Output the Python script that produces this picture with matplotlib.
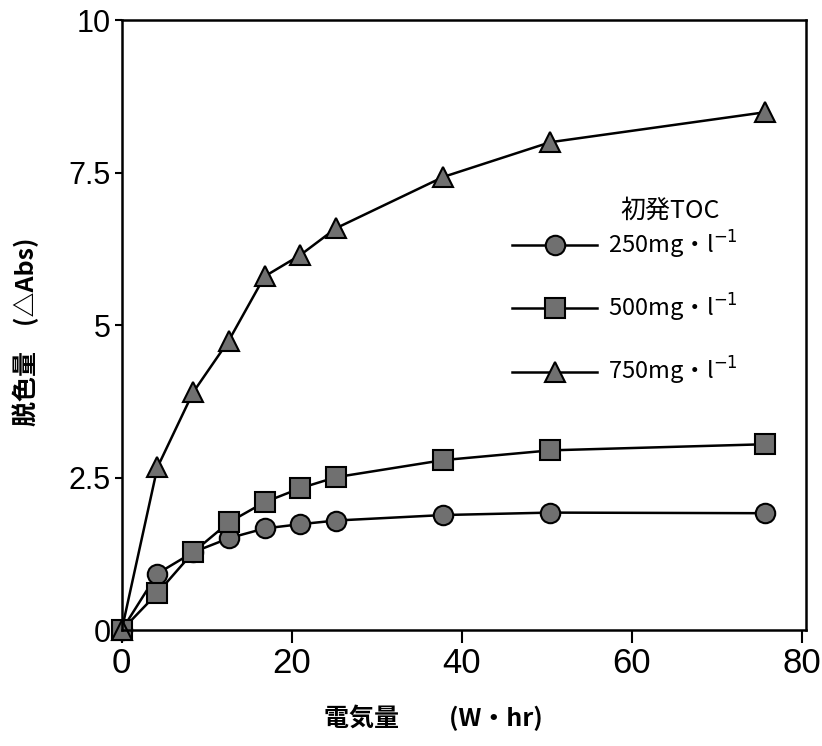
import matplotlib
matplotlib.use("Agg")
from matplotlib import pyplot as plt

plt.rcParams["font.family"] = ["Noto Sans CJK JP", "DejaVu Sans"]
plt.rcParams["mathtext.fontset"] = "dejavusans"

# 電気量 (W・hr)
charge = [0, 4.2, 8.4, 12.6, 16.8, 21.0, 25.2, 37.8, 50.4, 75.6]

# 脱色量 (ΔAbs)
toc_250 = [0, 0.93, 1.28, 1.51, 1.67, 1.74, 1.80, 1.89, 1.93, 1.92]
toc_500 = [0, 0.61, 1.28, 1.77, 2.10, 2.33, 2.51, 2.79, 2.95, 3.05]
toc_750 = [0, 2.67, 3.90, 4.75, 5.80, 6.15, 6.59, 7.43, 8.00, 8.49]

labels = [r"250mg・l$^{-1}$", r"500mg・l$^{-1}$", r"750mg・l$^{-1}$"]
markers = ["o", "s", "^"]

xticks = [0, 20, 40, 60, 80]
yticks = [0, 2.5, 5, 7.5, 10]
ytick_labels = ["0", "2.5", "5", "7.5", "10"]

fig, ax = plt.subplots(figsize=(8.22, 7.46), dpi=100)
fig.subplots_adjust(left=0.148, right=0.981, bottom=0.155, top=0.973)

lines = []
for series, marker, label in zip([toc_250, toc_500, toc_750], markers, labels):
    (ln,) = ax.plot(
        charge, series,
        marker=marker,
        markersize=14 if marker != "^" else 15,
        color="black",
        markerfacecolor="#707070",
        markeredgecolor="black",
        markeredgewidth=1.5,
        linewidth=1.8,
        clip_on=False,
        label=label,
    )
    lines.append(ln)

ax.set_xlim(0, 80.5)
ax.set_ylim(0, 10)
ax.set_xticks(xticks)
ax.set_xticklabels([str(t) for t in xticks], family="Liberation Sans", fontsize=25)
ax.set_yticks(yticks)
ax.set_yticklabels(ytick_labels, family="Liberation Sans", fontsize=22)
ax.tick_params(axis="x", direction="out", length=9, width=1.5, pad=3)
ax.tick_params(axis="y", direction="out", length=5, width=1.5, pad=3)

for spine in ax.spines.values():
    spine.set_linewidth(1.8)

ax.set_xlabel("電気量　　(W・hr)", fontsize=18, fontweight="bold")
ax.xaxis.set_label_coords(0.455, -0.122)
ax.set_ylabel("脱色量　(△Abs)", fontsize=18, fontweight="bold")
ax.yaxis.set_label_coords(-0.12, 0.49)

ax.text(0.728, 0.688, "初発TOC", transform=ax.transAxes, fontsize=18,
        ha="left", va="center")

leg = ax.legend(
    handles=lines,
    loc="upper left",
    bbox_to_anchor=(0.557, 0.674),
    frameon=False,
    fontsize=17,
    handlelength=3.6,
    handletextpad=0.45,
    labelspacing=1.32,
    borderaxespad=0,
)

fig.savefig("out.png", dpi=100)
